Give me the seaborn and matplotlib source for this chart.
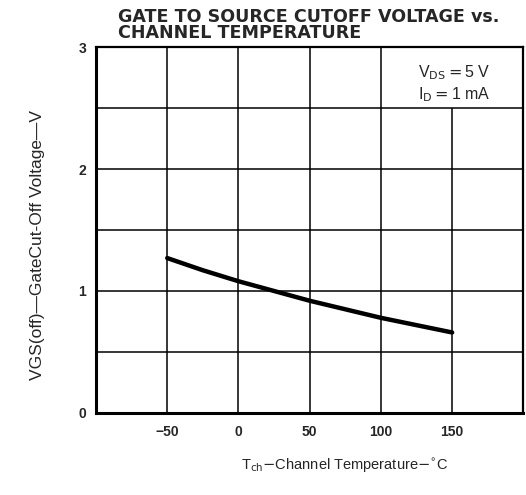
import numpy as np
import pandas as pd
import matplotlib
matplotlib.use("Agg")
import matplotlib.pyplot as plt
import seaborn as sns

# Values
temperature = [-50, -25, 0, 25, 50, 75, 100, 125, 150]
vgs_off = [1.27, 1.17, 1.08, 1.00, 0.92, 0.85, 0.78, 0.72, 0.66]

x_ticks = [-50, 0, 50, 100, 150]
x_tick_labels = ["\u221250", "0", "50", "100", "150"]
y_ticks = [0, 1, 2, 3]
x_grid = [-50, 0, 50, 100]
y_grid = [0.5, 1, 1.5, 2, 2.5]

df = pd.DataFrame({"Tch": temperature, "VGS": vgs_off})

sns.set_style("white")
plt.rcParams['font.family'] = ['Liberation Sans', 'DejaVu Sans']

fig = plt.figure(figsize=(5.26, 4.95), dpi=100)
ax = fig.add_axes([0.1825, 0.1657, 0.8125, 0.7393])

# grid (the 150 line stops under the conditions box)
for xv in x_grid:
    ax.axvline(xv, color='black', lw=1.1, zorder=1)
ax.vlines(150, 0, 2.5, color='black', lw=1.1, zorder=1)
for yv in y_grid:
    ax.axhline(yv, color='black', lw=1.1, zorder=1)

sns.lineplot(data=df, x="Tch", y="VGS", color='black', lw=3.2, ax=ax, zorder=3)

ax.set_xlim(-100, 200)
ax.set_ylim(0, 3)
ax.set_xticks(x_ticks)
ax.set_xticklabels(x_tick_labels)
ax.set_yticks(y_ticks)
ax.tick_params(axis='both', length=0, labelsize=10, pad=7)
for lab in ax.get_xticklabels() + ax.get_yticklabels():
    lab.set_fontweight('bold')
ax.tick_params(axis='x', pad=9)

for side, s in ax.spines.items():
    s.set_color('black')
    s.set_linewidth(1.6)
ax.spines['left'].set_linewidth(2.2)
ax.spines['bottom'].set_linewidth(2.2)

ax.set_xlabel("")
ax.set_ylabel("")
fig.text(0.072, 0.505, "VGS(off)\u2014GateCut-Off Voltage\u2014V",
         fontsize=12.5, rotation=90, ha='center', va='center')

fig.text(0.656, 0.058, r"T$_{\rm ch}$$-$Channel Temperature$-$$^{\circ}$C",
         fontsize=10.5, ha='center', va='center')

ax.text(126, 2.79, r"V$_{\rm DS}$$=$5 V", fontsize=11.5, ha='left', va='center')
ax.text(126, 2.61, r"I$_{\rm D}$$=$1 mA", fontsize=11.5, ha='left', va='center')

fig.text(0.224, 0.984, "GATE TO SOURCE CUTOFF VOLTAGE vs.\nCHANNEL TEMPERATURE",
         fontsize=12.6, fontweight='bold', family=['DejaVu Sans'],
         ha='left', va='top', linespacing=0.85)

fig.savefig("out.png", dpi=100)
